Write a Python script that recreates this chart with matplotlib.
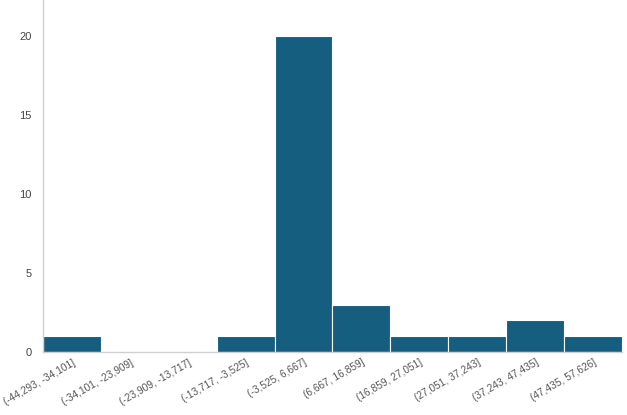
import matplotlib
matplotlib.use("Agg")
import matplotlib.pyplot as plt

labels = ["(-44,293, -34,101]", "(-34,101, -23,909]", "(-23,909, -13,717]",
          "(-13,717, -3,525]", "(-3,525, 6,667]", "(6,667, 16,859]",
          "(16,859, 27,051]", "(27,051, 37,243]", "(37,243, 47,435]",
          "(47,435, 57,626]"]
counts = [1, 0, 0, 1, 20, 3, 1, 1, 2, 1]
yticks = [0, 5, 10, 15, 20]

plt.rcParams['font.family'] = ['Liberation Sans', 'DejaVu Sans']
fig = plt.figure(figsize=(6.27, 4.15), dpi=100)
ax = fig.add_axes([0.0686, 0.1518, 0.9234, 0.8482])
x = list(range(len(counts)))
ax.bar(x, counts, width=1.0, color="#165e80", edgecolor="white", linewidth=0.8)
ax.set_xlim(-0.5, len(counts) - 0.5)
ax.set_ylim(0, 22.3)
ax.set_yticks(yticks)
ax.set_xticks(x)
ax.set_xticklabels(labels, rotation=30, ha="right", rotation_mode="anchor", fontsize=7.3, color="#555555")
ax.tick_params(axis="y", labelsize=8, labelcolor="#444444", length=0, pad=8)
ax.tick_params(axis="x", length=0, pad=4)
for s in ["top", "right"]:
    ax.spines[s].set_visible(False)
for s in ["left", "bottom"]:
    ax.spines[s].set_color("#d0d0d0")
    ax.spines[s].set_linewidth(1)
fig.savefig("out.png", dpi=100)
